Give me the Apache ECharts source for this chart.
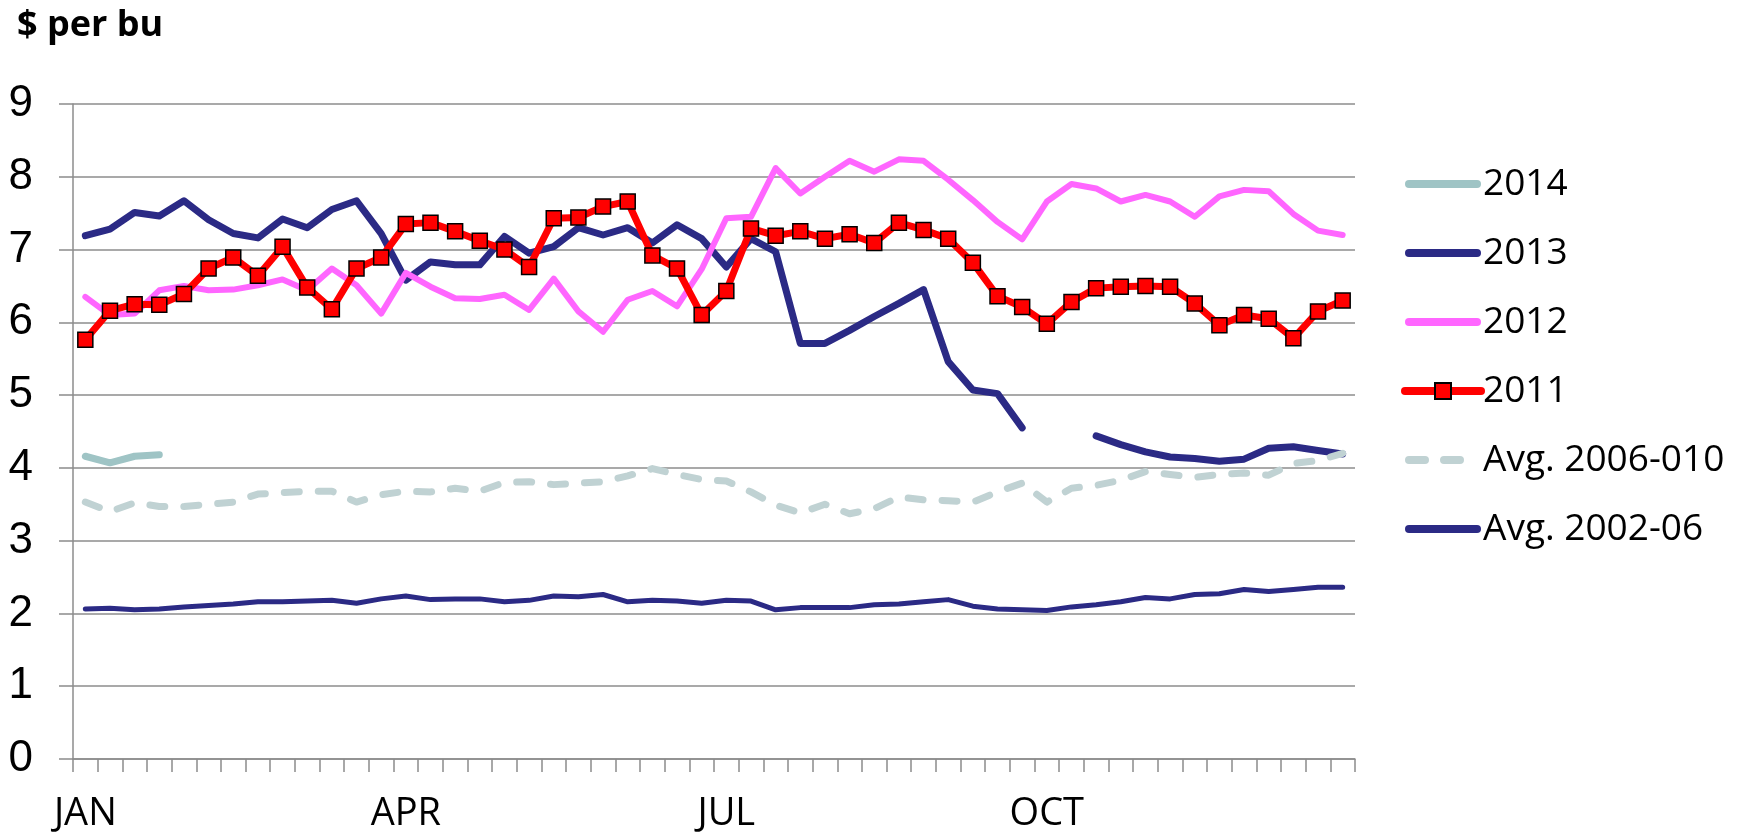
<!DOCTYPE html>
<html>
<head>
<meta charset="utf-8">
<title>Weekly prices, $ per bu</title>
<script src="https://cdn.jsdelivr.net/npm/echarts@6/dist/echarts.min.js"></script>
<style>
  html, body { margin: 0; padding: 0; background: #ffffff; }
  #chart { width: 1744px; height: 832px; }
</style>
</head>
<body>
<div id="chart"></div>
<script>
// Weekly marketing-year axis: 52 weeks, month names at quarter starts
const weekCount = 52;
const monthNames = ['JAN', 'APR', 'JUL', 'OCT'];
const monthWeek = [0, 13, 26, 39];

// Prices, $ per bu (null = no quote that week)
const y2014 = [4.16, 4.07, 4.16, 4.18];

const y2013 = [7.19, 7.28, 7.51, 7.46, 7.67, 7.41, 7.22, 7.16, 7.42, 7.30,
               7.55, 7.67, 7.22, 6.58, 6.83, 6.79, 6.79, 7.18, 6.95, 7.04,
               7.30, 7.20, 7.30, 7.09, 7.34, 7.15, 6.76, 7.15, 6.97, 5.71,
               5.71, 5.89, 6.08, 6.26, 6.45, 5.46, 5.07, 5.02, 4.55, null,
               null, 4.44, 4.32, 4.22, 4.15, 4.13, 4.09, 4.12, 4.27, 4.29,
               4.24, 4.19];

const y2012 = [6.35, 6.10, 6.12, 6.44, 6.50, 6.44, 6.45, 6.51, 6.59, 6.44,
               6.74, 6.51, 6.12, 6.68, 6.49, 6.33, 6.32, 6.38, 6.17, 6.60,
               6.15, 5.87, 6.31, 6.43, 6.22, 6.73, 7.43, 7.45, 8.12, 7.77,
               8.00, 8.22, 8.07, 8.24, 8.22, 7.96, 7.68, 7.38, 7.14, 7.66,
               7.90, 7.84, 7.66, 7.75, 7.66, 7.45, 7.73, 7.82, 7.80, 7.49,
               7.26, 7.20];

const y2011 = [5.76, 6.16, 6.25, 6.24, 6.39, 6.74, 6.89, 6.64, 7.04, 6.48,
               6.18, 6.74, 6.89, 7.35, 7.37, 7.25, 7.12, 7.00, 6.76, 7.43,
               7.44, 7.59, 7.66, 6.92, 6.74, 6.10, 6.43, 7.29, 7.19, 7.25,
               7.15, 7.21, 7.09, 7.37, 7.27, 7.15, 6.82, 6.36, 6.21, 5.98,
               6.28, 6.47, 6.49, 6.50, 6.49, 6.26, 5.96, 6.10, 6.05, 5.78,
               6.15, 6.30];

const avg2006to10 = [3.53, 3.40, 3.52, 3.47, 3.47, 3.50, 3.53, 3.64, 3.66, 3.68,
                     3.68, 3.53, 3.63, 3.68, 3.67, 3.72, 3.68, 3.80, 3.81, 3.77,
                     3.79, 3.81, 3.89, 3.99, 3.91, 3.84, 3.82, 3.67, 3.49, 3.38,
                     3.50, 3.37, 3.44, 3.60, 3.56, 3.55, 3.53, 3.67, 3.79, 3.53,
                     3.72, 3.76, 3.83, 3.95, 3.91, 3.87, 3.91, 3.93, 3.90, 4.06,
                     4.10, 4.20];

const avg2002to06 = [2.06, 2.07, 2.05, 2.06, 2.09, 2.11, 2.13, 2.16, 2.16, 2.17,
                     2.18, 2.14, 2.20, 2.24, 2.19, 2.20, 2.20, 2.16, 2.18, 2.24,
                     2.23, 2.26, 2.16, 2.18, 2.17, 2.14, 2.18, 2.17, 2.05, 2.08,
                     2.08, 2.08, 2.12, 2.13, 2.16, 2.19, 2.10, 2.06, 2.05, 2.04,
                     2.09, 2.12, 2.16, 2.22, 2.20, 2.26, 2.27, 2.33, 2.30, 2.33,
                     2.36, 2.36];

// Category labels: month name on its first week, blank elsewhere
const weeks = [];
for (let i = 0; i < weekCount; i++) {
  const m = monthWeek.indexOf(i);
  weeks.push(m >= 0 ? monthNames[m] : '');
}

const navy = '#2b2a85';
const textFont = '"Open Sans", "Noto Sans", sans-serif';

// Legend swatches: a rounded bar, and two rounded dashes (the zero-size
// subpath at x=76 keeps the dashed swatch's box as wide as the solid bar)
const barIcon = 'path://M4,0 L72,0 A4,4 0 0 1 72,8 L4,8 A4,4 0 0 1 4,0 Z';
const dashIcon = 'path://M4,0 L20,0 A4,4 0 0 1 20,8 L4,8 A4,4 0 0 1 4,0 Z ' +
                 'M39,0 L55,0 A4,4 0 0 1 55,8 L39,8 A4,4 0 0 1 39,0 Z M76,4 L76,4 Z';

const chart = echarts.init(document.getElementById('chart'), null, { renderer: 'canvas' });

function lineSeries(name, data, color, width, extra) {
  return Object.assign({
    name: name,
    type: 'line',
    data: data,
    symbol: 'none',
    connectNulls: false,
    lineStyle: { color: color, width: width, cap: 'round', join: 'round' },
    itemStyle: { color: color },
    emphasis: { disabled: true }
  }, extra || {});
}

chart.setOption({
  animation: false,
  backgroundColor: '#ffffff',
  title: {
    text: '$ per bu',
    left: 12,
    top: 3,
    textStyle: { fontFamily: textFont, fontWeight: 'bold', fontSize: 36, color: '#000000' }
  },
  grid: { left: 73, right: 389, top: 104, bottom: 73, containLabel: false, outerBoundsMode: 'none' },
  legend: {
    orient: 'vertical',
    left: 1396,
    top: 159,
    itemWidth: 76,
    itemHeight: 20,
    itemGap: 29,
    symbolKeepAspect: true,
    lineStyle: { width: 8, cap: 'round' },
    textStyle: { fontFamily: textFont, fontSize: 37, color: '#000000', lineHeight: 40, padding: [0, 0, 0, -3] },
    data: [
      { name: '2014', icon: barIcon },
      { name: '2013', icon: barIcon },
      { name: '2012', icon: barIcon },
      { name: '2011' },
      { name: 'Avg. 2006-010', icon: dashIcon },
      { name: 'Avg. 2002-06', icon: barIcon }
    ]
  },
  xAxis: {
    type: 'category',
    data: weeks,
    boundaryGap: true,
    axisLine: { lineStyle: { color: '#8c8c8c', width: 1.5 } },
    axisTick: { show: true, interval: 0, length: 13, lineStyle: { color: '#8c8c8c', width: 1.5 } },
    axisLabel: { interval: 0, margin: 36, fontFamily: textFont, fontSize: 38, color: '#000000' },
    splitLine: { show: false }
  },
  yAxis: {
    type: 'value',
    min: 0,
    max: 9,
    interval: 1,
    axisLine: { show: true, lineStyle: { color: '#8c8c8c', width: 1.5 } },
    axisTick: { show: true, length: 14, lineStyle: { color: '#8c8c8c', width: 1.5 } },
    axisLabel: { margin: 40, fontFamily: '"Liberation Sans", Arial, sans-serif', fontSize: 44, color: '#000000' },
    splitLine: { show: true, lineStyle: { color: '#8c8c8c', width: 1.5 } }
  },
  series: [
    lineSeries('2014', y2014, '#9fc4c5', 7),
    lineSeries('2013', y2013, navy, 7),
    lineSeries('2012', y2012, '#ff66ff', 6),
    lineSeries('2011', y2011, '#ff0000', 7, {
      symbol: 'rect',
      symbolSize: 15,
      showSymbol: true,
      itemStyle: { color: '#ff0000', borderColor: '#000000', borderWidth: 1.5 }
    }),
    lineSeries('Avg. 2006-010', avg2006to10, '#c0d2d3', 7, {
      lineStyle: { color: '#c0d2d3', width: 7, type: [15, 19], cap: 'round', join: 'round' }
    }),
    lineSeries('Avg. 2002-06', avg2002to06, navy, 5)
  ]
});
</script>
</body>
</html>
